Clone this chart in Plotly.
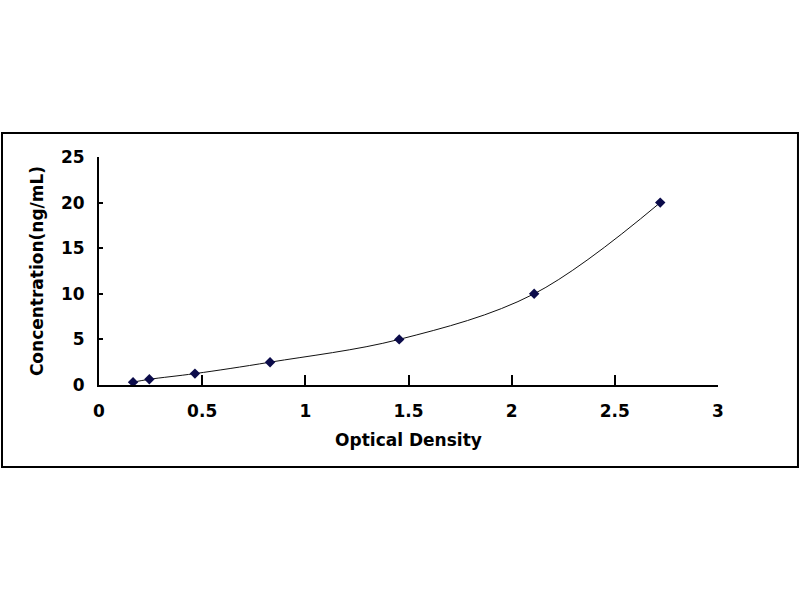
import plotly.graph_objects as go

# standard curve points
od = [0.165, 0.244, 0.465, 0.829, 1.455, 2.109, 2.72]
conc = [0.312, 0.625, 1.25, 2.5, 5, 10, 20]

x_ticks = [0, 0.5, 1, 1.5, 2, 2.5, 3]
x_ticklabels = ["0", "0.5", "1", "1.5", "2", "2.5", "3"]
y_ticks = [0, 5, 10, 15, 20, 25]

fig = go.Figure()
fig.add_trace(go.Scatter(
    x=od, y=conc, mode="lines+markers",
    line=dict(color="#111111", width=1, shape="spline", smoothing=1),
    marker=dict(symbol="diamond", size=8, color="#0b0b4a"),
    showlegend=False,
))

axis_font = dict(family="DejaVu Sans, Arial", size=17, color="black", weight="bold")

fig.update_layout(
    width=800, height=600,
    margin=dict(l=99, r=82, t=157, b=215),
    paper_bgcolor="white", plot_bgcolor="white",
    xaxis=dict(
        range=[0, 3], tickvals=x_ticks, ticktext=x_ticklabels,
        showline=True, linecolor="black", linewidth=2,
        ticks="inside", ticklen=10, tickwidth=2, tickcolor="black",
        showgrid=False, zeroline=False, tickfont=axis_font,
        ticklabelstandoff=10,
        title=dict(text="Optical Density", font=axis_font, standoff=14),
    ),
    yaxis=dict(
        range=[0, 25], tickvals=y_ticks,
        showline=True, linecolor="black", linewidth=2,
        ticks="inside", ticklen=4, tickwidth=2, tickcolor="black",
        showgrid=False, zeroline=False, tickfont=axis_font,
        ticklabelstandoff=9,
        title=dict(text="Concentration(ng/mL)", font=axis_font, standoff=13),
    ),
)

# outer frame around the whole chart
fig.add_shape(type="rect", xref="paper", yref="paper",
              x0=-0.1567, x1=1.1292, y0=-0.3596, y1=1.105,
              line=dict(color="black", width=2))

# drop the page's default body margin so the figure sits at the window corner
fig.write_html("out.html", config={"displayModeBar": False},
               post_script="document.body.style.margin='0';")
